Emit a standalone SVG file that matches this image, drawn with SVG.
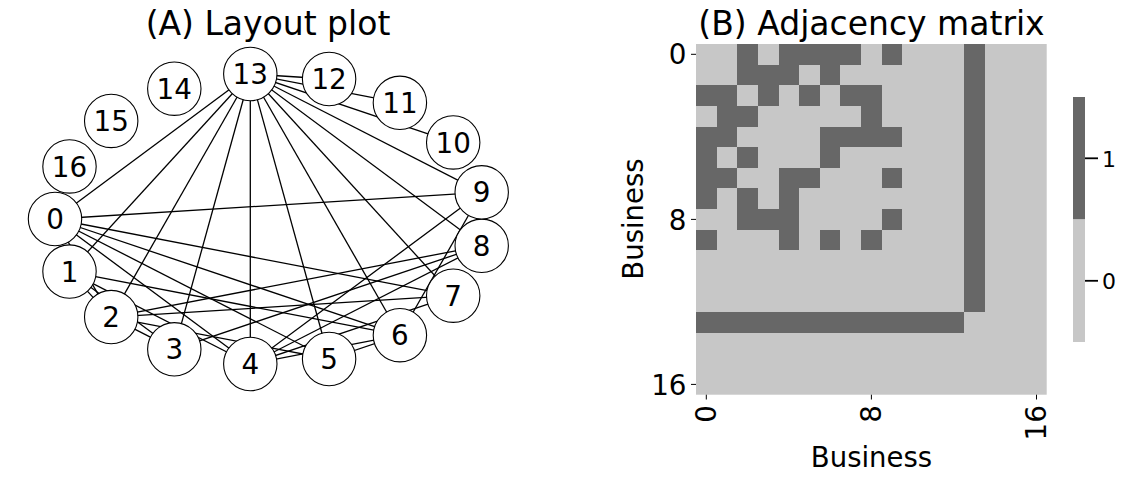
<svg xmlns="http://www.w3.org/2000/svg" width="1126" height="483" viewBox="0 0 1126 483">
<style>
text{font-family:"DejaVu Sans","Liberation Sans",sans-serif;fill:#000}
.title{font-size:33px;text-anchor:middle}
.nl{font-size:27.8px;text-anchor:middle}
.node circle{fill:#fff;stroke:#000;stroke-width:1.1}
#edges line{stroke:#000;stroke-width:1.3}
.tick{stroke:#000;stroke-width:1}
.tl{font-size:27.8px}
.ax{font-size:27.5px;text-anchor:middle}
.cb{font-size:22px}
.d{fill:#676767}
</style>
<rect width="1126" height="483" fill="#fff"/>
<text class="title" x="268" y="35">(A) Layout plot</text>
<g id="edges">
<line x1="55.0" y1="219.0" x2="111.2" y2="317.1"/>
<line x1="55.0" y1="219.0" x2="250.3" y2="364.0"/>
<line x1="55.0" y1="219.0" x2="329.1" y2="359.0"/>
<line x1="55.0" y1="219.0" x2="399.9" y2="335.2"/>
<line x1="55.0" y1="219.0" x2="453.2" y2="295.7"/>
<line x1="55.0" y1="219.0" x2="481.7" y2="192.3"/>
<line x1="55.0" y1="219.0" x2="250.3" y2="74.0"/>
<line x1="69.5" y1="271.6" x2="111.2" y2="317.1"/>
<line x1="69.5" y1="271.6" x2="174.3" y2="349.3"/>
<line x1="69.5" y1="271.6" x2="250.3" y2="364.0"/>
<line x1="69.5" y1="271.6" x2="399.9" y2="335.2"/>
<line x1="69.5" y1="271.6" x2="250.3" y2="74.0"/>
<line x1="111.2" y1="317.1" x2="174.3" y2="349.3"/>
<line x1="111.2" y1="317.1" x2="329.1" y2="359.0"/>
<line x1="111.2" y1="317.1" x2="453.2" y2="295.7"/>
<line x1="111.2" y1="317.1" x2="481.7" y2="245.8"/>
<line x1="111.2" y1="317.1" x2="250.3" y2="74.0"/>
<line x1="174.3" y1="349.3" x2="481.7" y2="245.8"/>
<line x1="174.3" y1="349.3" x2="250.3" y2="74.0"/>
<line x1="250.3" y1="364.0" x2="399.9" y2="335.2"/>
<line x1="250.3" y1="364.0" x2="453.2" y2="295.7"/>
<line x1="250.3" y1="364.0" x2="481.7" y2="245.8"/>
<line x1="250.3" y1="364.0" x2="481.7" y2="192.3"/>
<line x1="250.3" y1="364.0" x2="250.3" y2="74.0"/>
<line x1="329.1" y1="359.0" x2="399.9" y2="335.2"/>
<line x1="329.1" y1="359.0" x2="250.3" y2="74.0"/>
<line x1="399.9" y1="335.2" x2="481.7" y2="192.3"/>
<line x1="399.9" y1="335.2" x2="250.3" y2="74.0"/>
<line x1="453.2" y1="295.7" x2="250.3" y2="74.0"/>
<line x1="481.7" y1="245.8" x2="481.7" y2="192.3"/>
<line x1="481.7" y1="245.8" x2="250.3" y2="74.0"/>
<line x1="481.7" y1="192.3" x2="250.3" y2="74.0"/>
<line x1="453.2" y1="142.4" x2="250.3" y2="74.0"/>
<line x1="399.9" y1="102.8" x2="250.3" y2="74.0"/>
<line x1="329.1" y1="79.0" x2="250.3" y2="74.0"/>
</g>
<g id="node0" class="node"><circle cx="55.0" cy="219.0" r="26.7"/><text class="nl" x="55.0" y="229.1">0</text></g>
<g id="node1" class="node"><circle cx="69.5" cy="271.6" r="26.7"/><text class="nl" x="69.5" y="281.7">1</text></g>
<g id="node2" class="node"><circle cx="111.2" cy="317.1" r="26.7"/><text class="nl" x="111.2" y="327.2">2</text></g>
<g id="node3" class="node"><circle cx="174.3" cy="349.3" r="26.7"/><text class="nl" x="174.3" y="359.4">3</text></g>
<g id="node4" class="node"><circle cx="250.3" cy="364.0" r="26.7"/><text class="nl" x="250.3" y="374.1">4</text></g>
<g id="node5" class="node"><circle cx="329.1" cy="359.0" r="26.7"/><text class="nl" x="329.1" y="369.1">5</text></g>
<g id="node6" class="node"><circle cx="399.9" cy="335.2" r="26.7"/><text class="nl" x="399.9" y="345.3">6</text></g>
<g id="node7" class="node"><circle cx="453.2" cy="295.7" r="26.7"/><text class="nl" x="453.2" y="305.8">7</text></g>
<g id="node8" class="node"><circle cx="481.7" cy="245.8" r="26.7"/><text class="nl" x="481.7" y="255.9">8</text></g>
<g id="node9" class="node"><circle cx="481.7" cy="192.3" r="26.7"/><text class="nl" x="481.7" y="202.4">9</text></g>
<g id="node10" class="node"><circle cx="453.2" cy="142.4" r="26.7"/><text class="nl" x="453.2" y="152.5">10</text></g>
<g id="node11" class="node"><circle cx="399.9" cy="102.8" r="26.7"/><text class="nl" x="399.9" y="112.9">11</text></g>
<g id="node12" class="node"><circle cx="329.1" cy="79.0" r="26.7"/><text class="nl" x="329.1" y="89.1">12</text></g>
<g id="node13" class="node"><circle cx="250.3" cy="74.0" r="26.7"/><text class="nl" x="250.3" y="84.1">13</text></g>
<g id="node14" class="node"><circle cx="174.3" cy="88.7" r="26.7"/><text class="nl" x="174.3" y="98.8">14</text></g>
<g id="node15" class="node"><circle cx="111.2" cy="120.9" r="26.7"/><text class="nl" x="111.2" y="131.0">15</text></g>
<g id="node16" class="node"><circle cx="69.5" cy="166.4" r="26.7"/><text class="nl" x="69.5" y="176.5">16</text></g>

<text class="title" x="871.5" y="35">(B) Adjacency matrix</text>
<g id="matrix">
<rect x="696" y="44" width="350.7" height="350.7" fill="#c7c7c7"/>
<g transform="translate(696,44) scale(20.63)" shape-rendering="crispEdges" class="d">
<rect x="2" y="0" width="1" height="1"/><rect x="4" y="0" width="4" height="1"/><rect x="9" y="0" width="1" height="1"/>
<rect x="2" y="1" width="3" height="1"/><rect x="6" y="1" width="1" height="1"/>
<rect x="0" y="2" width="2" height="1"/><rect x="3" y="2" width="1" height="1"/><rect x="5" y="2" width="1" height="1"/><rect x="7" y="2" width="2" height="1"/>
<rect x="1" y="3" width="2" height="1"/><rect x="8" y="3" width="1" height="1"/>
<rect x="0" y="4" width="2" height="1"/><rect x="6" y="4" width="4" height="1"/>
<rect x="0" y="5" width="1" height="1"/><rect x="2" y="5" width="1" height="1"/><rect x="6" y="5" width="1" height="1"/>
<rect x="0" y="6" width="2" height="1"/><rect x="4" y="6" width="2" height="1"/><rect x="9" y="6" width="1" height="1"/>
<rect x="0" y="7" width="1" height="1"/><rect x="2" y="7" width="1" height="1"/><rect x="4" y="7" width="1" height="1"/>
<rect x="2" y="8" width="3" height="1"/><rect x="9" y="8" width="1" height="1"/>
<rect x="0" y="9" width="1" height="1"/><rect x="4" y="9" width="1" height="1"/><rect x="6" y="9" width="1" height="1"/><rect x="8" y="9" width="1" height="1"/>
<rect x="13" y="0" width="1" height="13"/>
<rect x="0" y="13" width="13" height="1"/>
</g>
</g>
<g id="axes">
<line class="tick" x1="691" y1="54.3" x2="696" y2="54.3"/>
<line class="tick" x1="691" y1="219.4" x2="696" y2="219.4"/>
<line class="tick" x1="691" y1="384.4" x2="696" y2="384.4"/>
<text class="tl" x="686.5" y="64.4" text-anchor="end">0</text>
<text class="tl" x="686.5" y="229.5" text-anchor="end">8</text>
<text class="tl" x="686.5" y="394.5" text-anchor="end">16</text>
<line class="tick" x1="706.3" y1="394.7" x2="706.3" y2="399.5"/>
<line class="tick" x1="871.4" y1="394.7" x2="871.4" y2="399.5"/>
<line class="tick" x1="1036.5" y1="394.7" x2="1036.5" y2="399.5"/>
<text class="tl" transform="translate(715.8,405) rotate(-90)" text-anchor="end">0</text>
<text class="tl" transform="translate(880.9,405) rotate(-90)" text-anchor="end">8</text>
<text class="tl" transform="translate(1046,405) rotate(-90)" text-anchor="end">16</text>
<text class="ax" x="871.5" y="467">Business</text>
<text class="ax" transform="translate(643,219) rotate(-90)">Business</text>
</g>
<g id="colorbar">
<rect x="1073" y="97" width="12" height="122.5" class="d"/>
<rect x="1073" y="219.5" width="12" height="122.5" fill="#c7c7c7"/>
<line x1="1085" y1="158.3" x2="1098" y2="158.3" stroke="#000" stroke-width="1.8"/>
<line x1="1085" y1="280.8" x2="1098" y2="280.8" stroke="#000" stroke-width="1.8"/>
<text class="cb" x="1102" y="166.5">1</text>
<text class="cb" x="1102" y="289">0</text>
</g>
</svg>
